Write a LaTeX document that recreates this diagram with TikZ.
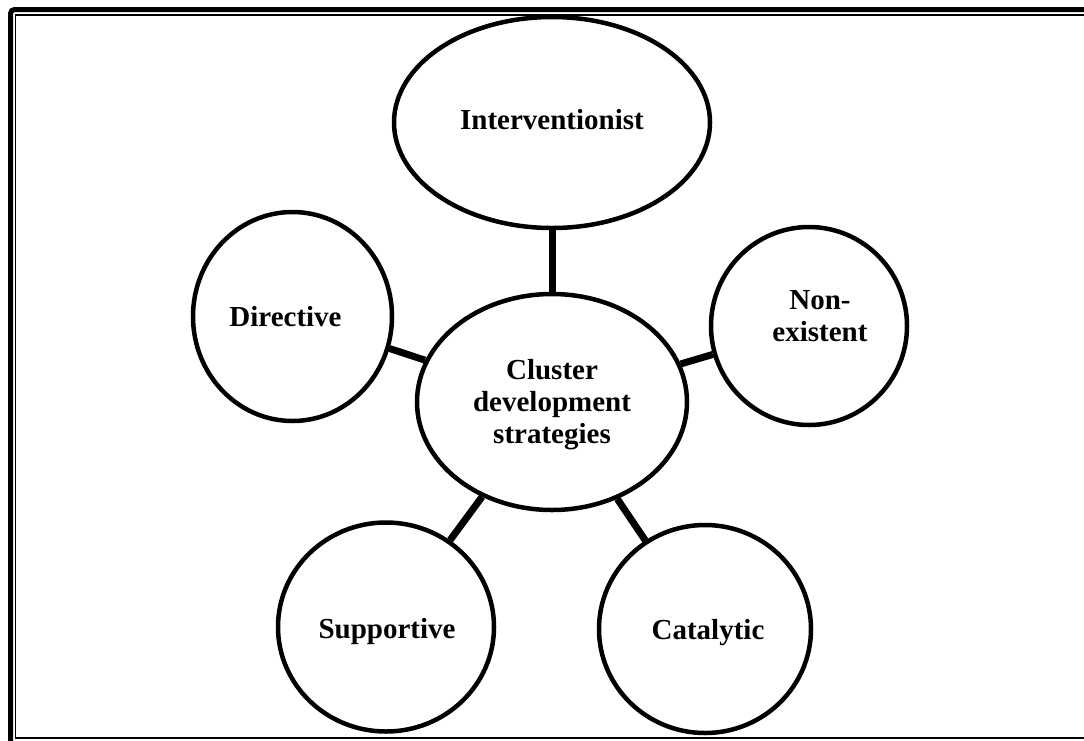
\documentclass[tikz,border=0pt]{standalone}
\usepackage{fontspec}
\setmainfont{Liberation Serif}
\usetikzlibrary{shapes.geometric}

\begin{document}
\begin{tikzpicture}[x=1pt,y=-1pt,
  bubble/.style={ellipse, draw=black, line width=4.5pt, fill=white, inner sep=0pt},
  tag/.style={font=\fontsize{29}{32}\selectfont\bfseries, align=center, text=black},
  link/.style={line width=7pt, draw=black}]
\useasboundingbox (0,0) rectangle (1084,740);
\clip (0,0) rectangle (1084,740);
\fill[white] (0,0) rectangle (1084,740);

% double frame (open towards the right and bottom page edges)
\draw[line width=5pt, rounded corners=4pt] (10.5,9.5) rectangle (1110,770);
\draw[line width=1.6pt] (15.5,14.8) rectangle (1100,737.8);

% strategy bubbles
\node[bubble, minimum width=316pt, minimum height=211pt,
      label={[tag,yshift=3pt]center:Interventionist}] (inter) at (552,122.5) {};
\node[bubble, minimum width=270pt, minimum height=216pt,
      label={[tag,yshift=-3pt]center:{Cluster\\development\\strategies}}] (core) at (552,402) {};
\node[bubble, minimum width=199pt, minimum height=209pt,
      label={[tag,xshift=-7pt]center:Directive}] (dir) at (292.5,316.5) {};
\node[bubble, minimum width=196pt, minimum height=198pt,
      label={[tag,xshift=11pt,yshift=10pt]center:{Non-\\existent}}] (nonex) at (809,326) {};
\node[bubble, minimum width=216pt, minimum height=209pt,
      label={[tag,xshift=1pt,yshift=-5pt]center:Supportive}] (supp) at (386,627) {};
\node[bubble, minimum width=212pt, minimum height=208pt,
      label={[tag,xshift=3pt,yshift=-4pt]center:Catalytic}] (cat) at (705,629) {};

% spokes from the core to each strategy
\draw[link] (core) -- (inter);
\draw[link] (core) -- (dir);
\draw[link] (core) -- (nonex);
\draw[link] (core) -- (supp);
\draw[link] (core) -- (cat);
\end{tikzpicture}
\end{document}
